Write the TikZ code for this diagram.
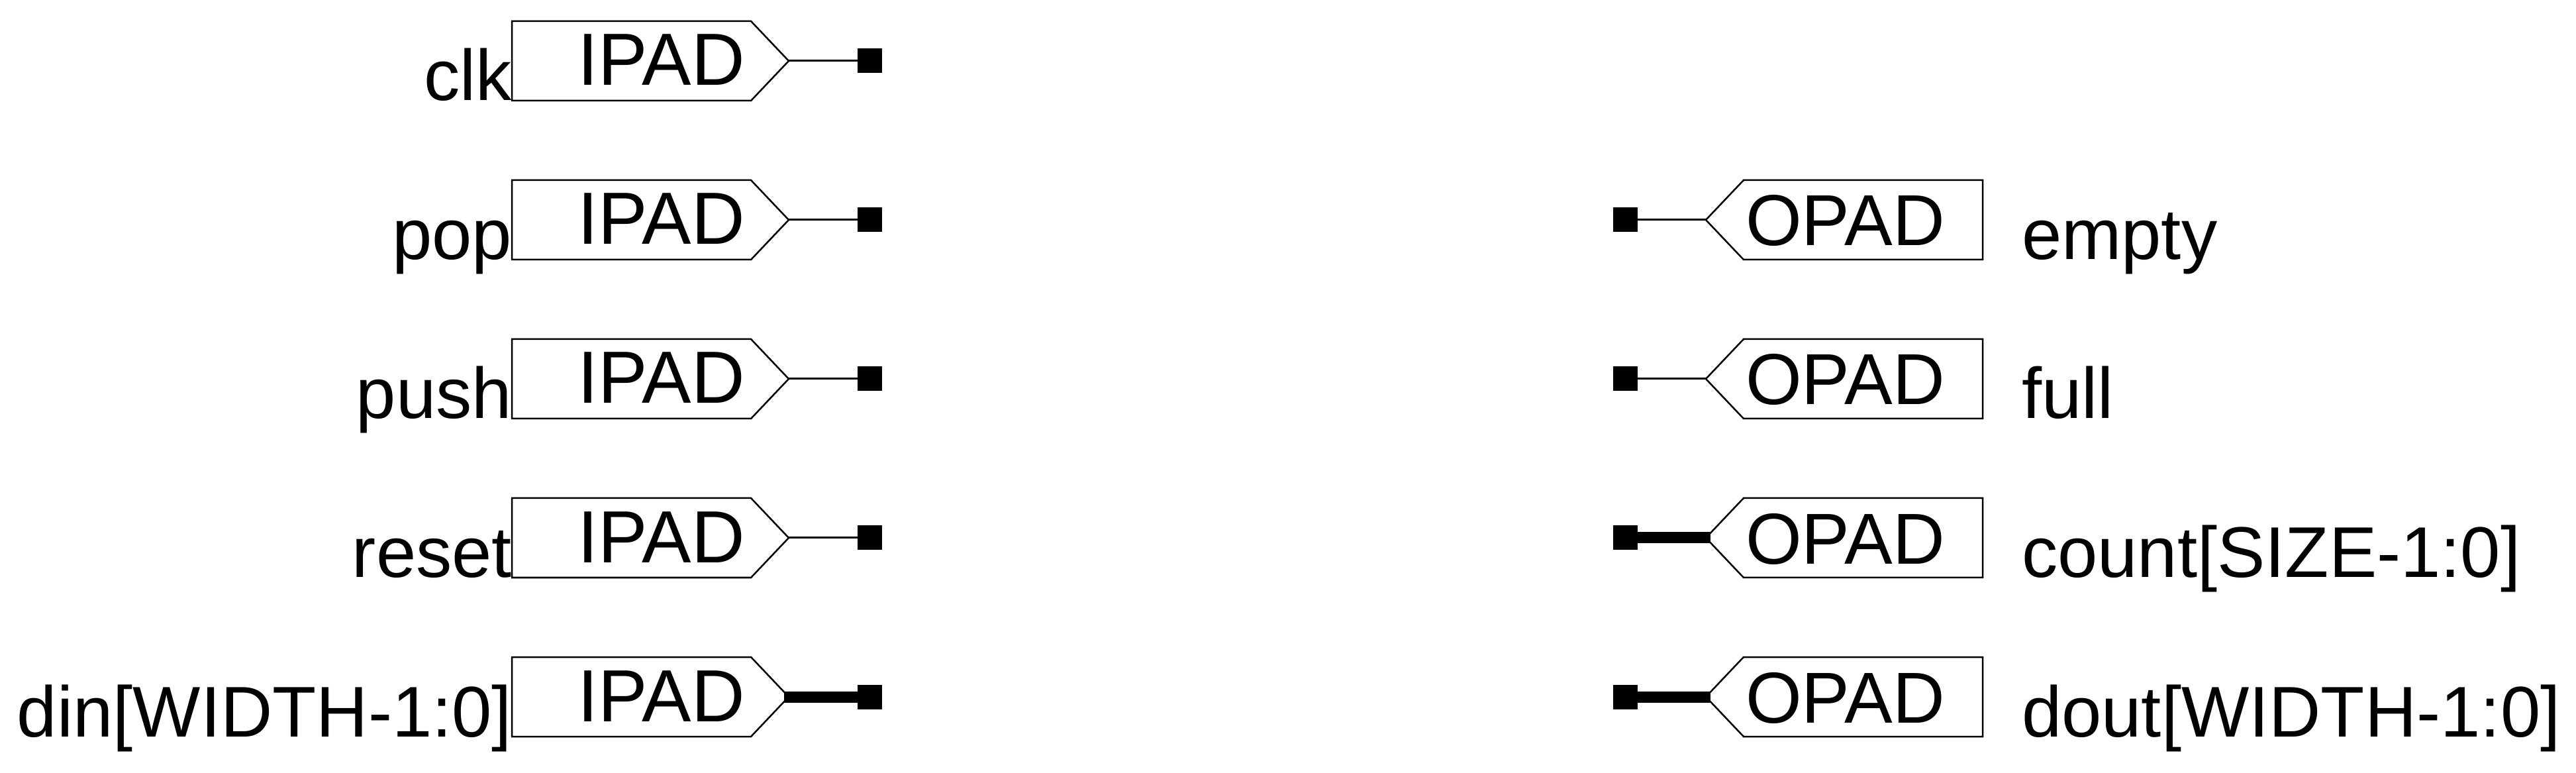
\documentclass[tikz,border=0pt]{standalone}
\usepackage{fontspec}
\setmainfont{Liberation Sans}
\usepackage{tikz}
\usetikzlibrary{shapes.symbols,positioning}

\begin{document}
\begin{tikzpicture}[
  node distance=4.8cm and 2.08cm,
  outer sep=0pt,
  pad/.style={signal, draw, line width=0.05cm, signal pointer angle=93, minimum height=2.4cm, inner ysep=0pt, text depth=0pt},
  ipad/.style={pad, signal to=east, anchor=west, text height=1.48cm, text width=6.84cm, align=right, inner xsep=0pt, minimum width=8.36cm, font=\fontsize{63.5}{70}\selectfont},
  opad/.style={pad, signal to=west, anchor=east, text height=1.56cm, text width=7.1cm, align=left, inner xsep=0pt, minimum width=8.36cm, font=\fontsize{62}{70}\selectfont},
  pin/.style={rectangle, fill=black, minimum size=0.74cm, inner sep=0pt},
  inlabel/.style={anchor=base east, inner sep=0pt, font=\fontsize{61.7}{70}\selectfont},
  outlabel/.style={anchor=base west, inner sep=0pt, xshift=1.18cm, font=\fontsize{61.7}{70}\selectfont},
  wire/.style={line width=0.06cm},
  bus/.style={line width=0.34cm},
]
  \useasboundingbox (0,0) rectangle (77.8,23.32);

  % input column
  \node[ipad] (clk) at (15.46,21.48) {IPAD};
  \node[ipad, below=of clk.west, anchor=west] (pop) {IPAD};
  \node[ipad, below=of pop.west, anchor=west] (push) {IPAD};
  \node[ipad, below=of push.west, anchor=west] (reset) {IPAD};
  \node[ipad, below=of reset.west, anchor=west] (din) {IPAD};

  \node[inlabel] (clklabel) at (clk.south west) {clk};
  \node[inlabel] (poplabel) at (pop.south west) {pop};
  \node[inlabel] (pushlabel) at (push.south west) {push};
  \node[inlabel] (resetlabel) at (reset.south west) {reset};
  \node[inlabel] (dinlabel) at (din.south west) {din[WIDTH-1:0]};

  \node[pin, right=of clk.east] (clkpin) {};
  \node[pin, right=of pop.east] (poppin) {};
  \node[pin, right=of push.east] (pushpin) {};
  \node[pin, right=of reset.east] (resetpin) {};
  \node[pin, right=of din.east] (dinpin) {};

  % output column
  \node[opad] (empty) at (59.88,16.68) {OPAD};
  \node[opad, below=of empty.east, anchor=east] (full) {OPAD};
  \node[opad, below=of full.east, anchor=east] (count) {OPAD};
  \node[opad, below=of count.east, anchor=east] (dout) {OPAD};

  \node[outlabel] (emptylabel) at (empty.south east) {empty};
  \node[outlabel] (fulllabel) at (full.south east) {full};
  \node[outlabel] (countlabel) at (count.south east) {count[SIZE-1:0]};
  \node[outlabel] (doutlabel) at (dout.south east) {dout[WIDTH-1:0]};

  \node[pin, left=2.06cm of empty.west] (emptypin) {};
  \node[pin, left=2.06cm of full.west] (fullpin) {};
  \node[pin, left=2.06cm of count.west] (countpin) {};
  \node[pin, left=2.06cm of dout.west] (doutpin) {};

  \draw[wire] (clk.east) -- (clkpin);
  \draw[wire] (pop.east) -- (poppin);
  \draw[wire] (push.east) -- (pushpin);
  \draw[wire] (reset.east) -- (resetpin);
  \draw[bus] ([xshift=-0.14cm]din.east) -- (dinpin);
  \draw[wire] (empty.west) -- (emptypin);
  \draw[wire] (full.west) -- (fullpin);
  \draw[bus] ([xshift=0.14cm]count.west) -- (countpin);
  \draw[bus] ([xshift=0.14cm]dout.west) -- (doutpin);
\end{tikzpicture}
\end{document}
